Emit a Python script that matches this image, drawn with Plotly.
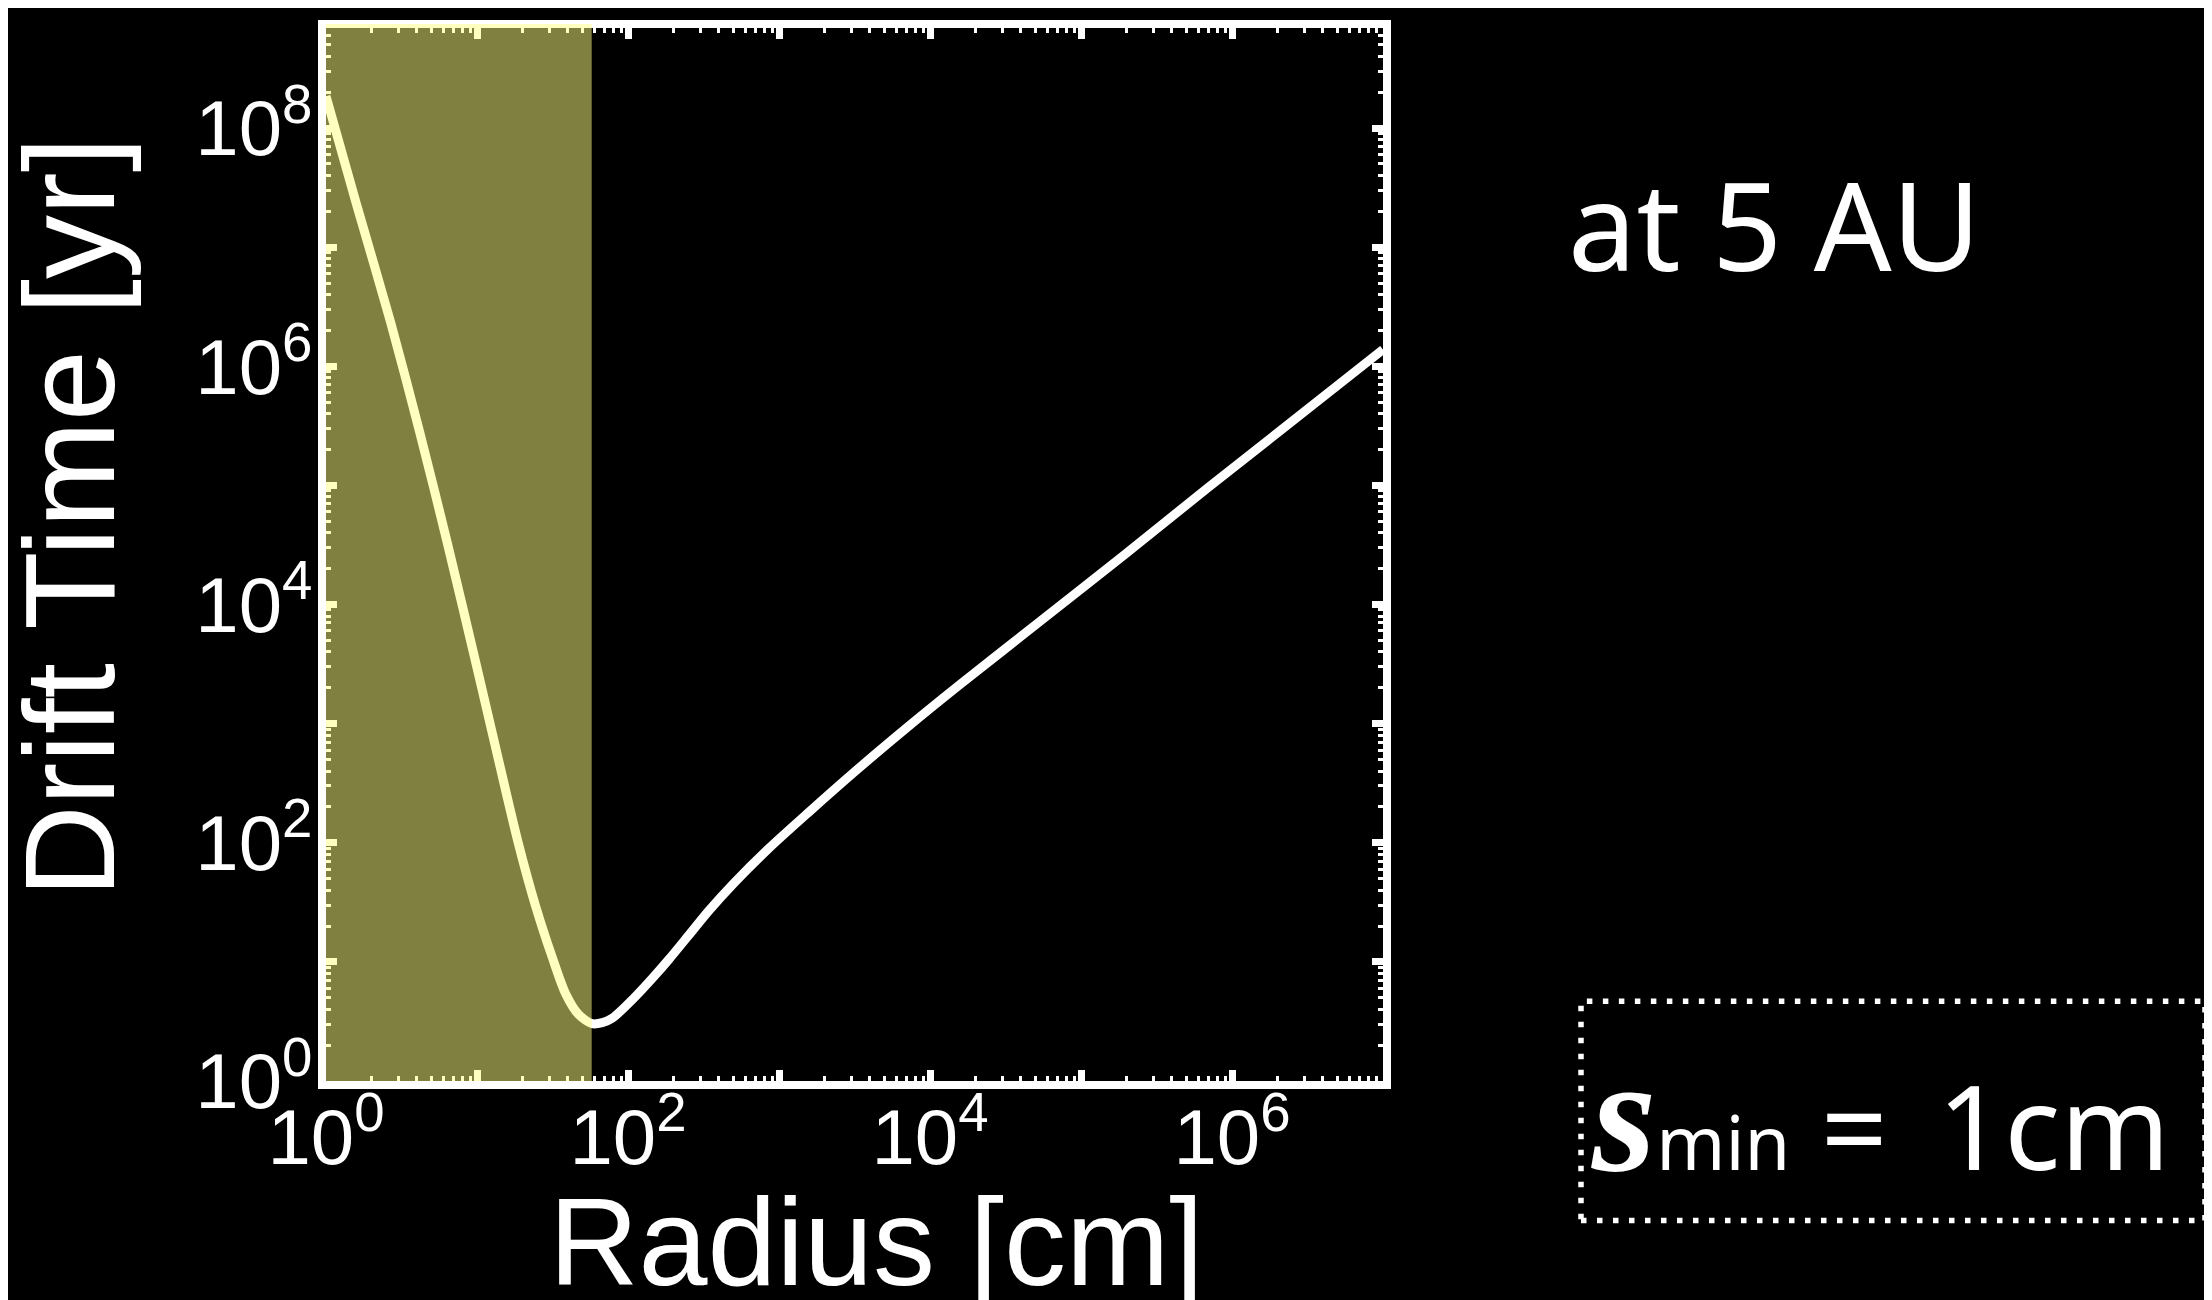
import plotly.graph_objects as go

# ---- data ----
radius_cm = [1.0, 1.159, 1.585, 2.679, 4.169, 6.353, 10.30, 13.74, 18.75, 24.43, 31.48, 38.55,
             47.21, 57.81, 67.6, 78.5, 112.2, 144.5, 186.2, 251.2, 342.8, 501.2, 851.1, 1585,
             3162, 7244, 15490, 54950, 195000, 691800, 1.0e7]
drift_time_yr = [1.85e8, 9.55e7, 2.34e7, 2.34e6, 2.82e5, 3.31e4, 2512, 525, 100, 29.5, 10.96, 5.43,
                 3.60, 3.03, 3.09, 3.36, 5.13, 7.24, 10.47, 16.6, 26.9, 45.7, 89.1, 182,
                 393.6, 955, 2089, 7413, 26300, 95500, 1.38e6]

shaded_radius = [1.0, 57.5]          # highlighted size range (cm)

x_tickvals = [1, 10, 100, 1e3, 1e4, 1e5, 1e6, 1e7]
x_ticktext = ["10<sup>0</sup>", "", "10<sup>2</sup>", "", "10<sup>4</sup>", "", "10<sup>6</sup>", ""]
y_tickvals = [1, 10, 100, 1e3, 1e4, 1e5, 1e6, 1e7, 1e8]
y_ticktext = ["10<sup>0</sup>", "", "10<sup>2</sup>", "", "10<sup>4</sup>", "", "10<sup>6</sup>", "", "10<sup>8</sup>"]

x_title = "Radius [cm]"
y_title = "Drift Time [yr]"
location_label = "at 5 AU"

W, H = 2212, 1300
L, R, T, B = 318, 1375, 17, 1073
FRAME = 8


def px(xpix):
    return (xpix - L) / (R - L)


def py(ypix):
    return (B - ypix) / (B - T)


fig = go.Figure()
fig.add_trace(go.Scatter(x=radius_cm, y=drift_time_yr, mode="lines",
                         line=dict(color="white", width=9, shape="spline", smoothing=0.8),
                         showlegend=False, hoverinfo="skip"))

axis_common = dict(
    type="log", showgrid=False, zeroline=False,
    showline=True, linewidth=FRAME, linecolor="white", mirror="allticks",
    ticks="inside", ticklen=11, tickwidth=7, tickcolor="white",
    tickmode="array",
    tickfont=dict(family="Liberation Sans, Arial, sans-serif", size=78, color="white"),
    minor=dict(ticks="inside", ticklen=5, tickwidth=3, tickcolor="white", dtick="D1", showgrid=False),
)

fig.update_xaxes(range=[0, 7], tickvals=x_tickvals, ticktext=x_ticktext,
                 ticklabelstandoff=-19, **axis_common)
fig.update_yaxes(range=[0, 8.84], tickvals=y_tickvals, ticktext=y_ticktext,
                 ticklabelstandoff=-10, **axis_common)

overlay = "rgba(255,255,128,0.5)"
top_edge = 1 + (FRAME / 2) / (B - T)
# highlighted range (semi-transparent overlay above everything, incl. inner half of the frame)
fig.add_shape(type="rect", xref="x", yref="paper",
              x0=shaded_radius[0], x1=shaded_radius[1], y0=0, y1=top_edge,
              fillcolor=overlay, line=dict(width=0), layer="above")
fig.add_shape(type="rect", xref="x", yref="paper", xsizemode="pixel", xanchor=shaded_radius[0],
              x0=-FRAME / 2, x1=0, y0=0, y1=top_edge,
              fillcolor=overlay, line=dict(width=0), layer="above")

# dotted box
fig.add_shape(type="rect", xref="paper", yref="paper",
              x0=px(1573), x1=px(2197), y0=py(1213), y1=py(993),
              line=dict(color="white", width=5.5, dash="5.5px,10.5px"),
              fillcolor="rgba(0,0,0,0)", layer="above")

fig.add_annotation(text=y_title, xref="paper", yref="paper", x=px(62), y=py(508),
                   textangle=-90, showarrow=False, xanchor="center", yanchor="middle",
                   font=dict(family="Liberation Sans, Arial, sans-serif", size=128, color="white"))
fig.add_annotation(text=x_title, xref="paper", yref="paper", x=px(868), y=py(1234),
                   showarrow=False, xanchor="center", yanchor="middle",
                   font=dict(family="Liberation Sans, Arial, sans-serif", size=124, color="white"))

fig.add_annotation(text=location_label, xref="paper", yref="paper", x=px(1558), y=py(214),
                   showarrow=False, xanchor="left", yanchor="middle",
                   font=dict(family="Noto Sans, sans-serif", size=122, color="white"))

fig.add_annotation(
    text='<span style="font-family:Liberation Serif;font-size:165px"><b><i>s</i></b></span>'
         '<span style="font-size:74px">min</span> = \u20091cm',
    xref="paper", yref="paper", x=px(1581), y=py(1107),
    showarrow=False, xanchor="left", yanchor="middle",
    font=dict(family="Noto Sans, sans-serif", size=117, color="white"))

fig.update_layout(
    width=W, height=H,
    margin=dict(l=L, r=W - R, t=T, b=H - B, pad=0),
    paper_bgcolor="black", plot_bgcolor="black",
    showlegend=False,
)

fig.write_html("out.html")
